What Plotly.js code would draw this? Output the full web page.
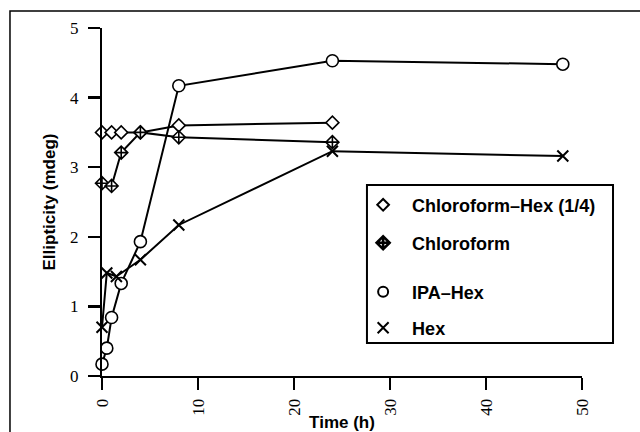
<!DOCTYPE html>
<html><head><meta charset="utf-8">
<script src="https://cdn.plot.ly/plotly-3.0.1.min.js"></script>
<style>html,body{margin:0;padding:0;background:#fff}</style>
</head><body><div id="chart" style="width:640px;height:432px"></div>
<script>
const seriesNames = ['Chloroform\u2013Hex (1/4)', 'Chloroform', 'IPA\u2013Hex', 'Hex'];
const timeChlHex = [0, 1, 2, 4, 8, 24];
const valChlHex = [3.5, 3.5, 3.5, 3.5, 3.6, 3.64];
const timeChl = [0, 1, 2, 4, 8, 24];
const valChl = [2.77, 2.73, 3.21, 3.5, 3.43, 3.36];
const timeIpa = [0, 0.5, 1, 2, 4, 8, 24, 48];
const valIpa = [0.17, 0.4, 0.84, 1.33, 1.93, 4.17, 4.53, 4.48];
const timeHex = [0, 0.5, 1.5, 4, 8, 24, 48];
const valHex = [0.7, 1.48, 1.43, 1.67, 2.17, 3.23, 3.16];
const xTicks = [0, 10, 20, 30, 40, 50];
const yTicks = [0, 1, 2, 3, 4, 5];

const symbols = ['diamond', 'diamond-cross', 'circle', 'x-thin-open'];
const sizes = [10, 10, 12, 11];
const legendSizes = [9, 10, 10, 11];
const xs = [timeChlHex, timeChl, timeIpa, timeHex];
const ys = [valChlHex, valChl, valIpa, valHex];
const legendIds = ['legend', 'legend2', 'legend3', 'legend4'];
const legendY = [0.491, 0.382, 0.241, 0.138];

const traces = [];
for (let i = 0; i < 4; i++) {
  traces.push({
    x: xs[i], y: ys[i], mode: 'lines+markers', name: seriesNames[i],
    showlegend: false, cliponaxis: false,
    line: {color: '#000', width: 2},
    marker: {symbol: symbols[i], size: sizes[i], color: i === 3 ? '#000' : '#fff',
             line: {color: '#000', width: i === 3 ? 2 : 1.6}}
  });
}
for (let i = 0; i < 4; i++) {
  traces.push({
    x: [null], y: [null], mode: 'markers', name: '\u2002' + seriesNames[i],
    showlegend: true, legend: legendIds[i],
    marker: {symbol: symbols[i], size: legendSizes[i], color: i === 3 ? '#000' : '#fff',
             line: {color: '#000', width: i === 1 ? 2.6 : 2}}
  });
}

const legFont = {family: 'Liberation Sans, Arial, sans-serif', size: 18, color: '#000', weight: 'bold'};
const layout = {
  width: 640, height: 432,
  margin: {l: 102, r: 58, t: 28, b: 56},
  paper_bgcolor: '#fff', plot_bgcolor: '#fff',
  xaxis: {
    range: [0, 50], tickvals: xTicks, ticks: 'outside', ticklen: 12, tickwidth: 2.5, tickcolor: '#000',
    showline: true, linewidth: 2, linecolor: '#000', showgrid: false, zeroline: false,
    tickangle: -90, ticklabelstandoff: 2,
    tickfont: {family: 'Liberation Serif, Times New Roman, serif', size: 17, color: '#000'},
    title: {text: 'Time (h)', standoff: 4,
            font: {family: 'Liberation Sans, Arial, sans-serif', size: 17, color: '#000', weight: 'bold'}}
  },
  yaxis: {
    range: [0, 5], tickvals: yTicks, ticks: 'outside', ticklen: 12, tickwidth: 2.5, tickcolor: '#000',
    showline: true, linewidth: 2, linecolor: '#000', showgrid: false, zeroline: false,
    ticklabelstandoff: 6,
    tickfont: {family: 'Liberation Serif, Times New Roman, serif', size: 17, color: '#000'},
    title: {text: 'Ellipticity (mdeg)', standoff: 10,
            font: {family: 'Liberation Sans, Arial, sans-serif', size: 17, color: '#000', weight: 'bold'}}
  },
  shapes: [
    {type: 'rect', xref: 'paper', yref: 'paper', x0: 0.552, x1: 1.0646, y0: 0.0948, y1: 0.549,
     line: {color: '#000', width: 2}},
    {type: 'rect', xref: 'paper', yref: 'paper', x0: -0.1917, x1: 1.14, y0: -0.2, y1: 1.0489,
     line: {color: '#000', width: 1.5}}
  ]
};
for (let i = 0; i < 4; i++) {
  layout[legendIds[i]] = {x: 0.544, y: legendY[i], xanchor: 'left', yanchor: 'middle',
    bgcolor: 'rgba(0,0,0,0)', borderwidth: 0, font: legFont};
}
Plotly.newPlot('chart', traces, layout, {displayModeBar: false, staticPlot: true});
</script></body></html>
